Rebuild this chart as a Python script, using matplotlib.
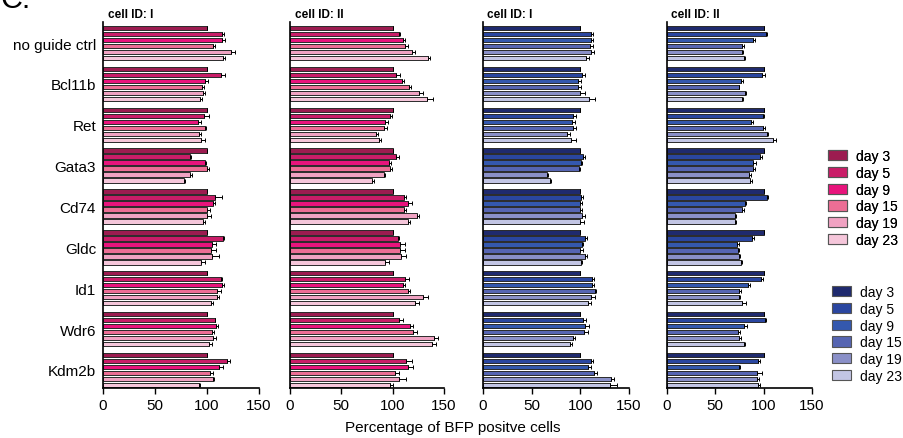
import numpy as np
import matplotlib
matplotlib.use("Agg")
import matplotlib.pyplot as plt
from matplotlib.patches import Patch

plt.rcParams["font.family"] = ["Liberation Sans", "DejaVu Sans"]

genes = ["no guide ctrl", "Bcl11b", "Ret", "Gata3", "Cd74", "Gldc", "Id1", "Wdr6", "Kdm2b"]
days = ["day 3", "day 5", "day 9", "day 15", "day 19", "day 23"]
panel_titles = ["cell ID: I", "cell ID: II", "cell ID: I", "cell ID: II"]

pink = ["#9c1c50", "#c91d68", "#e8147c", "#ec6e95", "#f0a2c2", "#f5c6da"]
blue = ["#1f2a6e", "#2a46a0", "#3458ae", "#5665b2", "#8a90c8", "#c2c5e4"]

# values per gene, one row per gene, columns = days 3..23
p1_vals = [[100, 114, 114.5, 106, 123.5, 115.5],
           [100, 113, 98, 95, 96, 93.5],
           [100, 97.5, 91, 98, 92, 94.5],
           [100, 84, 98, 100, 84, 78],
           [100, 108, 105.5, 100, 100, 96],
           [100, 115, 105, 103.5, 105, 94],
           [100, 113, 114, 110, 110, 104],
           [100, 107.5, 108.5, 105, 105.5, 102],
           [100, 119, 112, 103, 105.5, 92.5]]
p1_err = [[0, 2, 3, 1.5, 3, 2],
          [0, 4, 3, 2, 2, 2],
          [0, 4, 3, 1.5, 2, 4],
          [0, 1, 1.5, 1.5, 1.5, 0.5],
          [0, 6, 2, 3, 4, 2],
          [0, 1.5, 4, 5, 7, 4],
          [0, 1.5, 2, 3, 1.5, 1.5],
          [0, 0.5, 2, 2, 3, 3],
          [0, 3, 3, 2.5, 1, 1]]

p2_vals = [[100, 106, 110.5, 112.5, 119, 134],
           [100, 103.5, 109, 116, 125.5, 133.5],
           [100, 97, 93, 92, 84, 86.5],
           [100, 103.5, 96, 97, 91.5, 80],
           [100, 111, 115, 111, 124, 115],
           [100, 105.5, 107, 107, 108, 92.5],
           [100, 112, 110.5, 115, 130, 122],
           [100, 106, 116.5, 120, 140, 138],
           [100, 113, 115, 102, 106, 97.5]]
p2_err = [[0, 1.5, 2, 2, 2.5, 2],
          [0, 4, 2, 2, 4, 6],
          [0, 2, 2, 2, 2, 2],
          [0, 2.5, 2, 2.5, 1.5, 1.5],
          [0, 2, 4, 2, 2, 2],
          [0, 1, 5, 5, 5, 4],
          [0, 4, 2, 2, 4, 4],
          [0, 4, 3, 4, 4, 4],
          [0, 6, 5, 4, 7, 3]]

p3_vals = [[100, 110.5, 110.5, 110, 111, 105.5],
           [100, 102, 98, 98, 100, 109],
           [100, 92.7, 91.6, 92, 86, 90.6],
           [100, 103, 101, 98.5, 66, 69],
           [100, 101, 99.3, 99.3, 102, 100],
           [100, 104.5, 102, 100, 105, 100.5],
           [100, 111.5, 111.5, 115, 110.5, 108],
           [100, 103, 104.5, 103.4, 92.7, 89],
           [100, 110.5, 108, 113.6, 131.5, 130.5]]
p3_err = [[0, 3, 3, 3, 3, 3],
          [0, 3, 3, 3, 5, 6],
          [0, 2.5, 3, 3.5, 3, 5],
          [0, 2, 1, 1.5, 1, 0.5],
          [0, 2, 2.5, 2, 3, 4],
          [0, 2, 1, 3, 1.5, 1.5],
          [0, 3, 2.5, 1.5, 5, 3],
          [0, 3, 4, 4, 2, 2],
          [0, 3, 3, 4, 3, 7]]

p4_vals = [[100, 102.3, 88.6, 78, 77.6, 79.3],
           [100, 98.5, 77, 74, 80.7, 77.6],
           [100, 99, 87, 99.7, 103, 110],
           [100, 96.5, 89, 89.3, 85, 85.5],
           [100, 103, 80.7, 77.6, 70, 70],
           [100, 88, 72.8, 73, 74, 76.5],
           [100, 97.6, 84, 75, 75, 78],
           [100, 101.4, 79.6, 73.5, 75, 79.6],
           [100, 93.7, 74, 93, 93, 94.4]]
p4_err = [[0, 1.5, 2, 2, 1.5, 1.5],
          [0, 3, 2, 1, 1.5, 1.5],
          [0, 1, 1.5, 1.5, 2, 3],
          [0, 1.5, 3, 2, 2, 2],
          [0, 1.5, 1.5, 2, 1, 1],
          [0, 2, 2, 2, 2, 1.5],
          [0, 2, 2, 2, 1, 4],
          [0, 1.5, 3.5, 2, 2, 1.5],
          [0, 2, 1.5, 5, 2.5, 2]]

panels = [(p1_vals, p1_err, pink), (p2_vals, p2_err, pink),
          (p3_vals, p3_err, blue), (p4_vals, p4_err, blue)]

fig = plt.figure(figsize=(9.04, 4.39), dpi=100)
W, H = 904.0, 439.0
# pixel x-extent (0 -> 150) of each panel
px = [(103, 259), (290, 444), (483, 629), (667, 812)]
top_px, bot_px = 23, 389

group_step = 6.8
bar_h = 0.72
n_genes = len(genes)
n_days = len(days)
centers = np.arange(n_genes) * group_step + (n_days - 1) / 2

for k, (vals, errs, cols) in enumerate(panels):
    x0, x1 = px[k]
    ax = fig.add_axes([x0 / W, 1 - bot_px / H, (x1 - x0) / W, (bot_px - top_px) / H])
    vals = np.array(vals)
    errs = np.array(errs)
    for j in range(n_days):
        y = np.arange(n_genes) * group_step + j
        ax.barh(y, vals[:, j], height=bar_h, color=cols[j],
                edgecolor="#2a2a2a", linewidth=0.7, zorder=2)
        ax.errorbar(vals[:, j], y, xerr=[np.zeros(n_genes), errs[:, j]],
                    fmt="none", ecolor="black", elinewidth=0.7,
                    capsize=1.5, capthick=0.7, zorder=3)
    ax.set_xlim(0, 150)
    ax.set_ylim((n_genes - 1) * group_step + n_days - 1 + 0.5, -1.0)
    ax.set_xticks([0, 50, 100, 150])
    ax.tick_params(axis="x", labelsize=11, length=4, width=1, pad=3)
    ax.set_yticks(centers)
    if k == 0:
        ax.set_yticklabels(genes, fontsize=11)
        ax.tick_params(axis="y", length=0, pad=5)
    else:
        ax.set_yticklabels([])
        ax.tick_params(axis="y", length=0)
    for s in ["top", "right"]:
        ax.spines[s].set_visible(False)
    ax.spines["left"].set_linewidth(1.2)
    ax.spines["bottom"].set_linewidth(1.2)
    ax.text(0.03, 1.005, panel_titles[k], transform=ax.transAxes,
            fontsize=8.5, fontweight="bold", ha="left", va="bottom")

fig.text(453 / W, 1 - 428 / H, "Percentage of BFP positve cells",
         ha="center", va="center", fontsize=11)
fig.text(0.0, 1 - 8 / H, "C.", fontsize=22, ha="left", va="baseline")

pink_handles = [Patch(facecolor=c, edgecolor="#555555", linewidth=0.8) for c in pink]
blue_handles = [Patch(facecolor=c, edgecolor="#555555", linewidth=0.8) for c in blue]
leg_kw = dict(loc="upper left", frameon=False, fontsize=10, handlelength=1.35,
              handleheight=0.75, labelspacing=0.2, handletextpad=0.7,
              borderaxespad=0, borderpad=0)
leg1 = fig.legend(pink_handles, days, bbox_to_anchor=(828 / W, 1 - 150 / H), **leg_kw)
fig.add_artist(leg1)
fig.legend(blue_handles, days, bbox_to_anchor=(832 / W, 1 - 286 / H), **leg_kw)

fig.savefig("out.png", dpi=100)
